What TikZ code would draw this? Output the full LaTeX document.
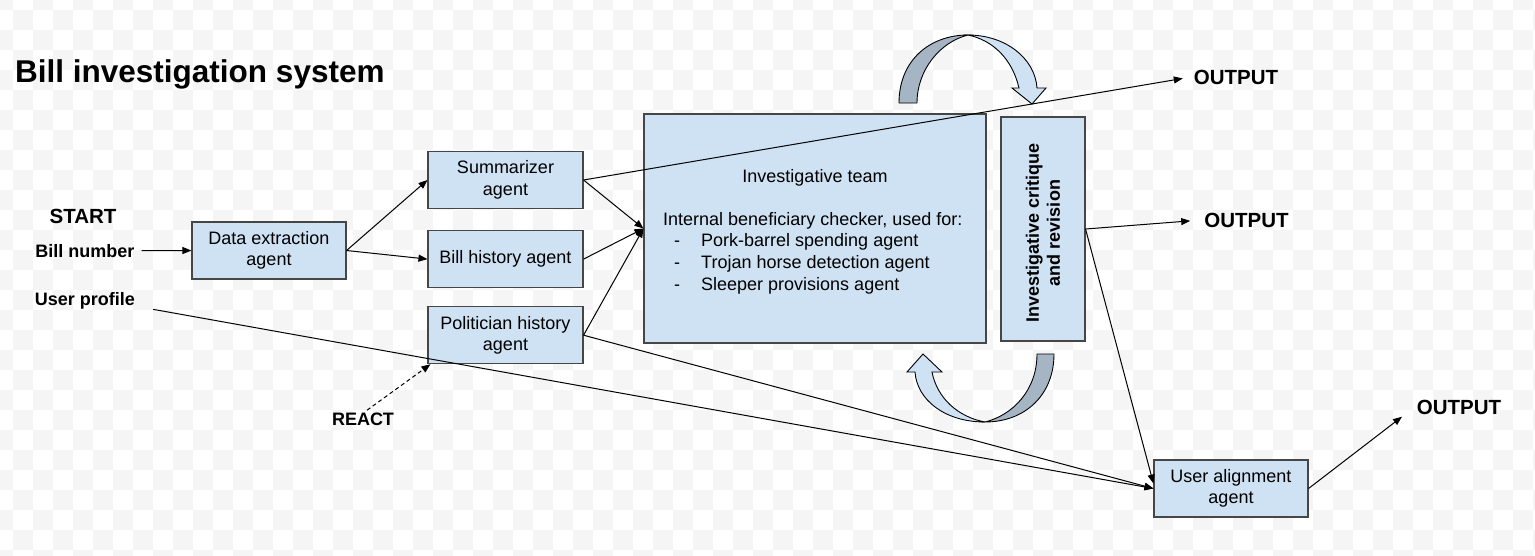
\documentclass[tikz,border=0pt]{standalone}
\usepackage{fontspec}
\setmainfont{Liberation Sans}
\usetikzlibrary{arrows.meta,positioning}
\definecolor{boxblue}{RGB}{207,226,243}
\definecolor{boxedge}{RGB}{70,70,70}
\definecolor{curlgray}{RGB}{166,181,196}
\definecolor{checkgray}{RGB}{245,245,245}

\begin{document}
\begin{tikzpicture}[
    x=1pt,y=-1pt,
    node distance=21pt,
    box/.style={draw=boxedge,fill=boxblue,line width=1.1pt,align=center,inner sep=0pt,
      minimum width=155pt,minimum height=57pt,font=\fontsize{18}{21.5}\selectfont},
    lbl/.style={font=\fontsize{18}{21}\selectfont\bfseries,inner sep=2pt},
    outlbl/.style={font=\fontsize{20.5}{24}\selectfont\bfseries,inner sep=2pt},
    arrow/.style={-{Triangle[length=9pt,width=7pt]},line width=1pt},
    curl/.style={draw=black,line width=0.9pt}
  ]
    \useasboundingbox (0,0) rectangle (1535,555);

    % faint checker background
    \begin{scope}
      \clip (0,0) rectangle (1535,555);
      \foreach \k in {-1,...,76}
        \foreach \m in {-1,...,27}{
          \pgfmathtruncatemacro\chk{mod(\k+\m+2,2)}
          \ifnum\chk=0 \fill[checkgray] (13+20*\k,10+20*\m) rectangle ++(20,20); \fi
        }
    \end{scope}

    \node[anchor=base west,inner sep=0pt,font=\fontsize{31.5}{37}\selectfont\bfseries] (title) at (15,82) {Bill investigation system};

    \node[lbl,anchor=base,font=\fontsize{20.5}{24}\selectfont\bfseries] (start) at (83,223) {START};
    \node[lbl,anchor=base] (num) at (85,257) {Bill number};
    \node[lbl,anchor=base] (prof) at (85,305) {User profile};
    \node[lbl,anchor=base] (react) at (363,425) {REACT};

    \node[box,minimum width=154pt] (data) at (269,250.5) {Data extraction\\agent};
    \node[box] (sum) at (505.5,180) {Summarizer\\agent};
    \node[box,below=21pt of sum] (bill) {Bill history agent};
    \node[box,below=18pt of bill] (pol) {Politician history\\agent};

    \node[box,minimum width=342pt,minimum height=229pt] (team) at (815,228.5) {};
    \node[anchor=base,inner sep=0pt,font=\fontsize{18}{21.5}\selectfont] (teamname) at (815,182) {Investigative team};
    \node[anchor=base west,inner sep=0pt,font=\fontsize{18}{21.8}\selectfont] (teamlist) at (663,225) {%
      \begin{tabular}[t]{@{}l@{}}
        Internal beneficiary checker, used for:\\
        \hspace*{11pt}\makebox[27pt][l]{-}Pork-barrel spending agent\\
        \hspace*{11pt}\makebox[27pt][l]{-}Trojan horse detection agent\\
        \hspace*{11pt}\makebox[27pt][l]{-}Sleeper provisions agent
      \end{tabular}};

    \node[box,minimum width=84pt,minimum height=224pt] (crit) at (1043,229) {};
    \node[lbl,rotate=90,align=center] (crittext) at ([yshift=-4pt]crit.center) {Investigative critique\\and revision};

    \node[box,minimum width=154pt] (user) at (1231,488.5) {User alignment\\agent};

    \node[outlbl,anchor=base] (out1) at (1236,84) {OUTPUT};
    \node[outlbl,anchor=base] (out2) at (1246.5,227) {OUTPUT};
    \node[outlbl,anchor=base] (out3) at (1459,414) {OUTPUT};

    % revision loops
    \filldraw[curl,fill=curlgray] (899,103) .. controls (899,60) and (930,35) .. (968,35)
      .. controls (940,42) and (917,70) .. (917,103) -- cycle;
    \filldraw[curl,fill=boxblue] (968,35) .. controls (1005,35) and (1035,58) .. (1037,88)
      -- (1046,88) -- (1032,104) -- (1012,88) -- (1019,88)
      .. controls (1012,58) and (992,40) .. (968,35) -- cycle;
    \filldraw[curl,fill=curlgray] (1054,354) .. controls (1054,395) and (1025,422) .. (985,422)
      .. controls (1013,415) and (1037,390) .. (1037,354) -- cycle;
    \filldraw[curl,fill=boxblue] (985,422) .. controls (945,422) and (917,400) .. (915,372)
      -- (907,372) -- (923,354) -- (942,372) -- (932,372)
      .. controls (937,398) and (958,417) .. (985,422) -- cycle;

    \draw[arrow,shorten <=5pt] (num) -- (data);
    \draw[arrow] (data.east) -- (sum.west);
    \draw[arrow] (data.east) -- (bill.west);
    \draw[arrow] (sum.east) -- (team.west);
    \draw[arrow] (bill.east) -- (team.west);
    \draw[arrow] (pol.east) -- (team.west);
    \draw[arrow,shorten >=9pt] (sum.east) -- (out1.west);
    \draw[arrow,shorten >=12pt] (crit.east) -- (out2.west);
    \draw[arrow] (crit.east) -- ([yshift=5pt]user.west);
    \draw[arrow] (pol.east) -- (user.west);
    \draw[arrow] ([shift={(16pt,-9pt)}]prof.east) -- (user.west);
    \draw[arrow,dash pattern=on 4pt off 3pt] ([xshift=4pt]react.north) -- ([xshift=3pt]pol.south west);
    \draw[arrow,shorten >=16pt] (user.east) -- (out3.west);
  \end{tikzpicture}
\end{document}
